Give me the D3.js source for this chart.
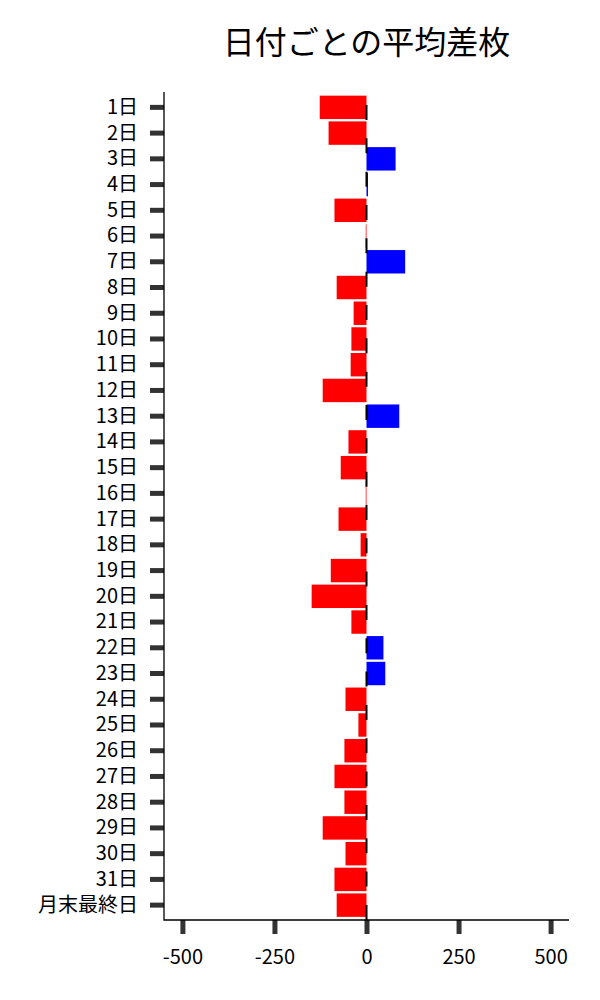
<!DOCTYPE html>
<html>
<head>
<meta charset="utf-8">
<script src="https://cdn.jsdelivr.net/npm/d3@7"></script>
<style>
  body { margin: 0; background: #fff; }
  svg { font-family: "Noto Sans CJK JP", "Noto Sans", sans-serif; }
</style>
</head>
<body>
<div id="chart"></div>
<script>
// Data
var days = ["1日", "2日", "3日", "4日", "5日", "6日", "7日", "8日", "9日", "10日",
    "11日", "12日", "13日", "14日", "15日", "16日", "17日", "18日", "19日", "20日",
    "21日", "22日", "23日", "24日", "25日", "26日", "27日", "28日", "29日", "30日",
    "31日", "月末最終日"];
var avgDiff = [-127, -103, 79, 4, -87, -2, 105, -81, -35, -41,
    -43, -119, 89, -49, -70, -2, -76, -16, -97, -149,
    -41, 46, 51, -57, -22, -60, -87, -60, -119, -57,
    -87, -81];
var xTicks = [-500, -250, 0, 250, 500];
var xDomain = [-550, 550];

// Size and plot area
var w = 600;
var h = 1000;
var plotLeft = 164, plotRight = 569, plotTop = 92, plotBottom = 920;

var svg = d3.select("#chart")
    .append("svg")
    .attr("width", w)
    .attr("height", h);

// Scales
var xScale = d3.scaleLinear()
    .domain(xDomain)
    .range([plotLeft, plotRight]);

var yScale = d3.scaleBand()
    .domain(days)
    .range([94.5, 918])
    .paddingInner(0.09)
    .paddingOuter(0.045);

// Bars
svg.selectAll("rect.bar")
    .data(avgDiff)
    .enter()
    .append("rect")
    .attr("class", "bar")
    .attr("x", function (d) { return xScale(Math.min(0, d)); })
    .attr("y", function (d, i) { return yScale(days[i]); })
    .attr("width", function (d) { return Math.abs(xScale(d) - xScale(0)); })
    .attr("height", yScale.bandwidth())
    .attr("fill", function (d) { return d < 0 ? "#ff0000" : "#0000ff"; });

// Dashed zero line
svg.append("line")
    .attr("x1", xScale(0))
    .attr("x2", xScale(0))
    .attr("y1", plotTop)
    .attr("y2", plotBottom)
    .attr("stroke", "#000")
    .attr("stroke-width", 2)
    .attr("stroke-dasharray", "15,18.33")
    .attr("stroke-dashoffset", 20.33);

// Axes
var yAxis = d3.axisLeft(yScale).tickSize(14).tickSizeOuter(0).tickPadding(12);
var gy = svg.append("g")
    .attr("transform", "translate(" + plotLeft + ",0)")
    .call(yAxis);

var xAxis = d3.axisBottom(xScale)
    .tickValues(xTicks)
    .tickFormat(function (d) { return String(d); })
    .tickSize(14)
    .tickSizeOuter(0)
    .tickPadding(16);
var gx = svg.append("g")
    .attr("transform", "translate(0," + plotBottom + ")")
    .call(xAxis);

[gx, gy].forEach(function (g) {
    g.select(".domain").remove();
    g.selectAll(".tick line").attr("stroke", "#333").attr("stroke-width", 5);
    g.selectAll(".tick text")
        .attr("fill", "#000")
        .style("font-size", "20px")
        .style("font-family", "'Noto Sans CJK JP', 'Noto Sans', sans-serif");
});

// Left and bottom spines
svg.append("path")
    .attr("d", "M" + plotLeft + "," + plotTop + "V" + plotBottom + "H" + plotRight)
    .attr("fill", "none")
    .attr("stroke", "#000")
    .attr("stroke-width", 1.3);

// Title
svg.append("text")
    .attr("x", (plotLeft + plotRight) / 2)
    .attr("y", 54)
    .attr("text-anchor", "middle")
    .style("font-size", "32px")
    .text("日付ごとの平均差枚");
</script>
</body>
</html>
